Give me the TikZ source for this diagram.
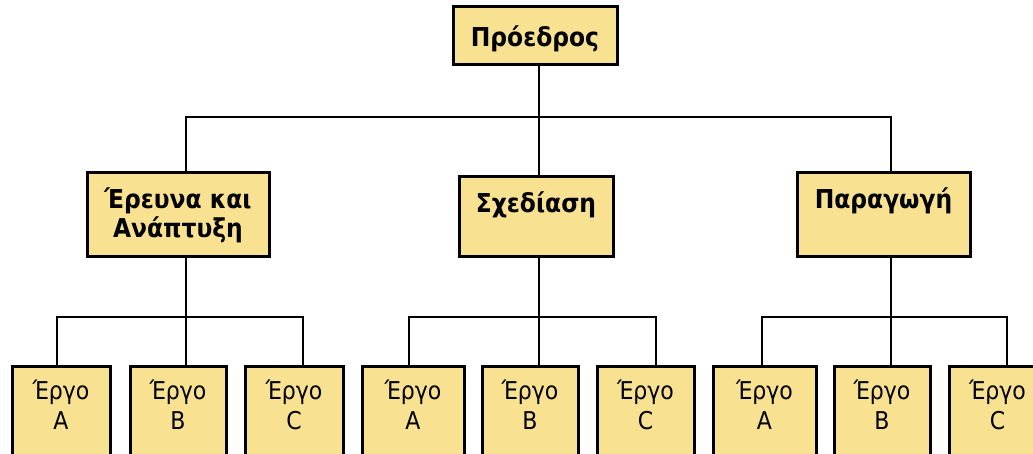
\documentclass[tikz,border=0pt]{standalone}
\usepackage{fontspec}
\setmainfont{DejaVu Sans Condensed}
\definecolor{boxfill}{RGB}{248,225,145}
\newcommand{\twolines}[2]{\begin{tabular}[t]{@{}c@{}}#1\\#2\end{tabular}}
\begin{document}
\begin{tikzpicture}[x=1pt,y=-1pt,
  box/.style={draw=black, line width=3pt, fill=boxfill, rectangle, inner xsep=0pt, inner ysep=0pt, anchor=north},
  headbox/.style={box, font=\bfseries\fontsize{26}{27}\selectfont},
  workbox/.style={box, font=\fontsize{24.5}{30}\selectfont, text height=33pt, text depth=77pt},
  conn/.style={line width=1.7pt},
  drop/.style={line width=2.7pt}]
\useasboundingbox (0,0) rectangle (1033,454);
\clip (0,0) rectangle (1033,454);
% top
\node[headbox, minimum width=164pt, text height=40pt, text depth=18pt] (pres) at (535,5) {Πρόεδρος};
% level 2
\node[headbox, minimum width=182pt, text height=36pt, text depth=48pt] (rd) at (178,171) {\twolines{Έρευνα και}{Ανάπτυξη}};
\node[headbox, minimum width=154pt, text height=36pt, text depth=44pt] (des) at (536,175) {Σχεδίαση};
\node[headbox, minimum width=173pt, text height=36pt, text depth=48pt] (prod) at (883.5,171) {Παραγωγή};
% level 3
\node[workbox, minimum width=98pt] (rda) at (61,365) {\twolines{Έργο}{A}};
\node[workbox, minimum width=96pt] (rdb) at (178,365) {\twolines{Έργο}{B}};
\node[workbox, minimum width=98pt] (rdc) at (294,365) {\twolines{Έργο}{C}};
\node[workbox, minimum width=102pt] (dea) at (413,365) {\twolines{Έργο}{A}};
\node[workbox, minimum width=96pt] (deb) at (530,365) {\twolines{Έργο}{B}};
\node[workbox, minimum width=97pt] (dec) at (645.5,365) {\twolines{Έργο}{C}};
\node[workbox, minimum width=103pt] (pra) at (764.5,365) {\twolines{Έργο}{A}};
\node[workbox, minimum width=96pt] (prb) at (882,365) {\twolines{Έργο}{B}};
\node[workbox, minimum width=97pt] (prc) at (997.5,365) {\twolines{Έργο}{C}};
% junction coordinates
\coordinate (j1) at (539,117);
\coordinate (j1l) at (186,117);
\coordinate (j1r) at (891,117);
\coordinate (j2) at (186,317);
\coordinate (j2l) at (57,317);
\coordinate (j2r) at (303,317);
\coordinate (j3) at (539,317);
\coordinate (j3l) at (409,317);
\coordinate (j3r) at (656,317);
\coordinate (j4) at (891,317);
\coordinate (j4l) at (762,317);
\coordinate (j4r) at (1007,317);
% connectors level 1
\draw[conn] (pres.south -| j1) -- (j1);
\draw[conn] (rd.north -| j1l) -- (j1l) -- (j1r) -- (prod.north -| j1r);
\draw[conn] (j1) -- (des.north -| j1);
% connectors level 2
\draw[conn] (rd.south -| j2) -- (j2);
\draw[drop] (rda.north -| j2l) -- (j2l) -- (j2r) -- (rdc.north -| j2r);
\draw[conn] (j2) -- (rdb.north -| j2);
\draw[conn] (des.south -| j3) -- (j3);
\draw[drop] (dea.north -| j3l) -- (j3l) -- (j3r) -- (dec.north -| j3r);
\draw[conn] (j3) -- (deb.north -| j3);
\draw[conn] (prod.south -| j4) -- (j4);
\draw[drop] (pra.north -| j4l) -- (j4l) -- (j4r) -- (prc.north -| j4r);
\draw[conn] (j4) -- (prb.north -| j4);
\end{tikzpicture}
\end{document}
